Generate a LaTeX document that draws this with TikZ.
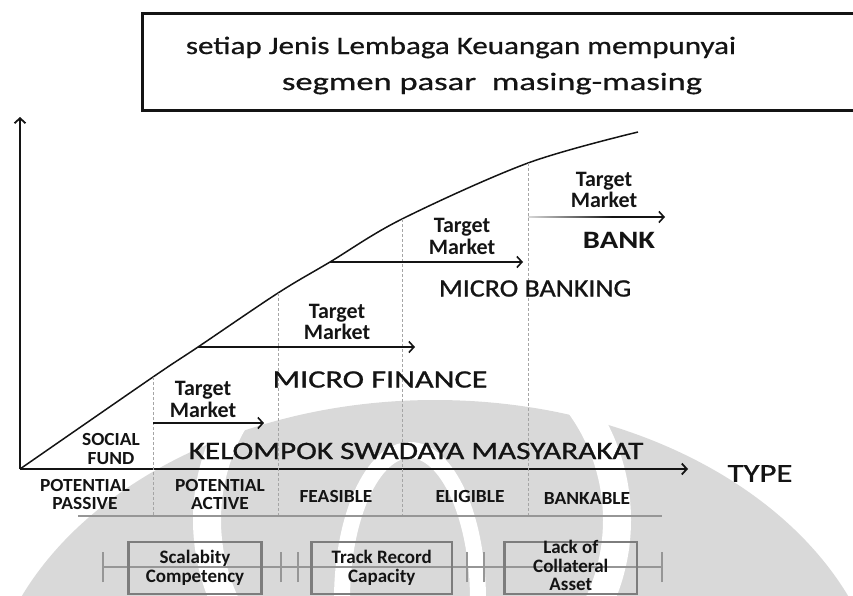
\documentclass[tikz,border=0pt]{standalone}
\usepackage{fontspec}
\setmainfont{Carlito}
\newfontfamily\heavyfont{Carlito}[FakeBold=0.9]
\newfontfamily\titlefont{Carlito}[FakeBold=0.6]
\usetikzlibrary{arrows.meta}
\definecolor{wmgrey}{RGB}{217,217,217}
\definecolor{boxgrey}{RGB}{125,125,125}
\definecolor{rulegrey}{RGB}{150,150,150}
\definecolor{dashgrey}{RGB}{165,165,165}
\definecolor{ink}{RGB}{20,20,20}
\begin{document}
\begin{tikzpicture}[x=1pt,y=-1pt,
  axis/.style={line width=1.8pt, ink, -{Straight Barb[length=5pt,width=11pt]}},
  curve/.style={line width=1.5pt, ink},
  tmarrow/.style={line width=1.6pt, ink, -{Straight Barb[length=5pt,width=11pt]}},
  sep/.style={dashgrey, line width=0.9pt, dash pattern=on 3pt off 2pt},
  rule/.style={rulegrey, line width=1.3pt},
  tick/.style={rulegrey, line width=1.3pt},
  ttl/.style={font=\titlefont\fontsize{25}{30}\selectfont, inner sep=0pt, text=ink},
  lbl/.style={font=\bfseries\fontsize{18.5}{18.5}\selectfont, xscale=1.05, align=center, inner sep=0pt, text=ink},
  tm/.style={font=\bfseries\fontsize{22}{21.5}\selectfont, align=center, inner sep=0pt, text=ink},
  big/.style={font=\heavyfont\fontsize{25}{30}\selectfont, inner sep=0pt, text=ink},
  cbox/.style={draw=boxgrey, line width=2.6pt, inner sep=0pt, align=center,
    font=\bfseries\fontsize{19}{19}\selectfont, text=ink},
  boxtext/.style={inner sep=0pt, align=center,
    font=\bfseries\fontsize{19}{18.5}\selectfont, text=ink}
]
\useasboundingbox (0,0) rectangle (853,595);

% background emblem
\begin{scope}
  \clip (0,0) rectangle (853,595);
  \fill[wmgrey] (435,725) ellipse [x radius=450, y radius=325];
  \draw[white, line width=28pt] (412,520) ellipse [x radius=205, y radius=200];
  \draw[white, line width=16pt] (410,600) ellipse [x radius=68, y radius=150];
\end{scope}

% heading box, open on the right
\node[minimum width=711.5, minimum height=96, inner sep=0pt] (titlebox) at (498.75,62) {};
\draw[line width=3pt, ink] (titlebox.north east) -- (titlebox.north west)
  -- (titlebox.south west) -- (titlebox.south east);
\node[ttl, xscale=1.24, anchor=base] (title1) at (461,54) {setiap Jenis Lembaga Keuangan mempunyai};
\node[ttl, xscale=1.38, anchor=base] (title2) at (492,90) {segmen pasar\ \ masing-masing};

% axes
\coordinate (O) at (20,469);
\coordinate (ytop) at (20,117);
\coordinate (xend) at (688,469);
\draw[axis] (O) -- (ytop);
\draw[axis] (O) -- (xend);

% growth curve
\draw[curve] plot[smooth, tension=0.55] coordinates
  {(20,469) (153,377) (198,347) (278,293) (330,262) (402,219) (528,163) (638,132)};

% stage boundaries
\coordinate (d1t) at (153,377); \coordinate (d1b) at (153,516);
\coordinate (d2t) at (278,293); \coordinate (d2b) at (278,516);
\coordinate (d3t) at (402,219); \coordinate (d3b) at (402,516);
\coordinate (d4t) at (528,163); \coordinate (d4b) at (528,516);
\draw[sep] (d1t) -- (d1b);
\draw[sep] (d2t) -- (d2b);
\draw[sep] (d3t) -- (d3b);
\draw[sep] (d4t) -- (d4b);

% stage rule
\coordinate (rs) at (78,516); \coordinate (re) at (662,516);
\draw[rule] (rs) -- (re);

% target market arrows
\coordinate (a1s) at (153,423); \coordinate (a1e) at (264,423);
\coordinate (a2s) at (198,347); \coordinate (a2e) at (415,347);
\coordinate (a3s) at (330,262); \coordinate (a3e) at (523,262);
\coordinate (a4s) at (528,217); \coordinate (a4e) at (665,217);
\draw[tmarrow] (a1s) -- (a1e);
\draw[tmarrow] (a2s) -- (a2e);
\draw[tmarrow] (a3s) -- (a3e);
\draw[tmarrow] (a4s) -- (a4e);
\shade[left color=gray!30, right color=ink] (528,216.2) rectangle (612,217.8);

\node[tm] (tm1) at (203,399.5) {Target\\Market};
\node[tm] (tm2) at (337,322) {Target\\Market};
\node[tm] (tm3) at (462,236.5) {Target\\Market};
\node[tm] (tm4) at (604,190) {Target\\Market};

% institutions
\node[big, font=\bfseries\fontsize{25}{30}\selectfont, xscale=1.22] (bank) at (619,240) {BANK};
\node[big, xscale=1.12] (mbank) at (535,288.5) {MICRO BANKING};
\node[big, xscale=1.29] (mfin) at (380,379.5) {MICRO FINANCE};
\node[big, xscale=1.25] (ksm) at (416,451) {KELOMPOK SWADAYA MASYARAKAT};
\node[lbl] (social) at (111,449) {SOCIAL\\FUND};
\node[big, font=\heavyfont\fontsize{26}{30}\selectfont, xscale=1.26] (type) at (760,473.5) {TYPE};

% stages
\node[lbl] (st1) at (85,494.5) {POTENTIAL\\PASSIVE};
\node[lbl] (st2) at (220,494.5) {POTENTIAL\\ACTIVE};
\node[lbl] (st3) at (336,496) {FEASIBLE};
\node[lbl] (st4) at (470,496) {ELIGIBLE};
\node[lbl] (st5) at (587,498) {BANKABLE};

% constraints line
\coordinate (k1) at (103,567); \coordinate (k2) at (281,567);
\coordinate (k3) at (298,567); \coordinate (k4) at (467,567);
\coordinate (k5) at (484,567); \coordinate (k6) at (662,567);
\draw[rule] (k1) -- (k6);
\foreach \k in {k1,k2,k3,k4,k5,k6}
  \draw[tick] ([yshift=-15pt]\k) -- ([yshift=15pt]\k);

\node[cbox, minimum width=133, minimum height=52] (b1) at (195,568) {Scalabity\\Competency};
\node[cbox, minimum width=140.5, minimum height=52] (b2) at (381.75,568) {Track Record\\Capacity};
\node[cbox, minimum width=132.5, minimum height=52] (b3) at (570.75,568) {};
\node[boxtext] (b3text) at (570.75,565.5) {Lack of\\Collateral\\Asset};
\end{tikzpicture}
\end{document}
